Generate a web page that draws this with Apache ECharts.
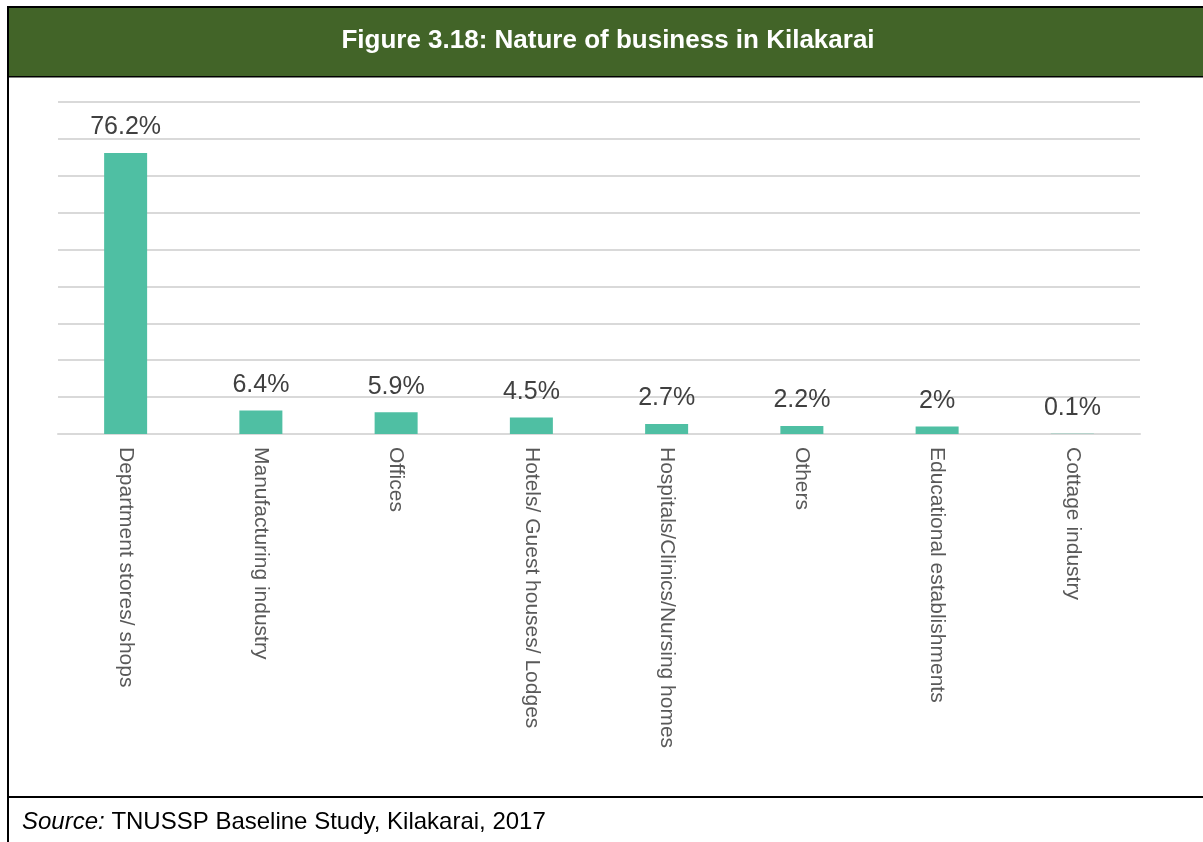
<!DOCTYPE html>
<html>
<head>
<meta charset="utf-8">
<script src="https://cdn.jsdelivr.net/npm/echarts@6/dist/echarts.min.js"></script>
<style>
  html, body { margin: 0; padding: 0; background: #ffffff; }
  #chart { width: 1203px; height: 842px; }
</style>
</head>
<body>
<div id="chart"></div>
<script>
// Nature of business in Kilakarai (share of surveyed businesses, %)
const categories = [
  'Department stores/ shops',
  'Manufacturing industry',
  'Offices',
  'Hotels/ Guest houses/ Lodges',
  'Hospitals/Clinics/Nursing homes',
  'Others',
  'Educational establishments',
  'Cottage industry'
];
const shares = [76.2, 6.4, 5.9, 4.5, 2.7, 2.2, 2, 0.1];

const titleText = 'Figure 3.18: Nature of business in Kilakarai';
const sourceLabel = 'Source:';
const sourceText = ' TNUSSP Baseline Study, Kilakarai, 2017';

const FONT = '"Liberation Sans", Arial, sans-serif';

const chart = echarts.init(document.getElementById('chart'), null, { renderer: 'canvas' });

chart.setOption({
  animation: false,
  backgroundColor: '#ffffff',
  grid: { left: 58, right: 63, top: 102, bottom: 408, containLabel: false },
  xAxis: {
    type: 'category',
    data: categories,
    axisLine: { show: true, lineStyle: { color: '#d9d9d9', width: 2 } },
    axisTick: { show: false },
    axisLabel: {
      rotate: -90,
      interval: 0,
      margin: 13,
      color: '#595959',
      fontFamily: FONT,
      fontSize: 21
    }
  },
  yAxis: {
    type: 'value',
    min: 0,
    max: 90,
    interval: 10,
    axisLabel: { show: false },
    axisLine: { show: false },
    axisTick: { show: false },
    splitLine: { lineStyle: { color: '#d9d9d9', width: 2 } }
  },
  series: [{
    type: 'bar',
    data: shares,
    barWidth: 43,
    itemStyle: { color: '#4fbfa3' },
    label: {
      show: true,
      position: 'top',
      distance: 13,
      color: '#404040',
      fontFamily: FONT,
      fontSize: 25,
      formatter: p => p.value + '%'
    }
  }],
  graphic: [
    // outer frame
    { type: 'line', shape: { x1: 8, y1: 6, x2: 8, y2: 842 }, style: { stroke: '#000', lineWidth: 2 }, z: 10 },
    { type: 'line', shape: { x1: 7, y1: 7, x2: 1203, y2: 7 }, style: { stroke: '#000', lineWidth: 2 }, z: 10 },
    { type: 'line', shape: { x1: 7, y1: 76.5, x2: 1203, y2: 76.5 }, style: { stroke: '#000', lineWidth: 2 }, z: 10 },
    { type: 'line', shape: { x1: 7, y1: 797, x2: 1203, y2: 797 }, style: { stroke: '#000', lineWidth: 2 }, z: 10 },
    // title band
    { type: 'rect', shape: { x: 9, y: 8, width: 1194, height: 68 }, style: { fill: '#426428' }, z: 11 },
    {
      type: 'text', x: 608, y: 41, z: 12,
      style: {
        text: titleText, fill: '#ffffff', fontFamily: FONT, fontWeight: 'bold',
        fontSize: 26, align: 'center', verticalAlign: 'middle'
      }
    },
    // source note
    {
      type: 'text', x: 22, y: 822, z: 12,
      style: {
        text: '{i|' + sourceLabel + '}{n|' + sourceText + '}',
        verticalAlign: 'middle',
        rich: {
          i: { fontFamily: FONT, fontSize: 24, fontStyle: 'italic', fill: '#000' },
          n: { fontFamily: FONT, fontSize: 24, fill: '#000' }
        }
      }
    }
  ]
});
</script>
</body>
</html>
